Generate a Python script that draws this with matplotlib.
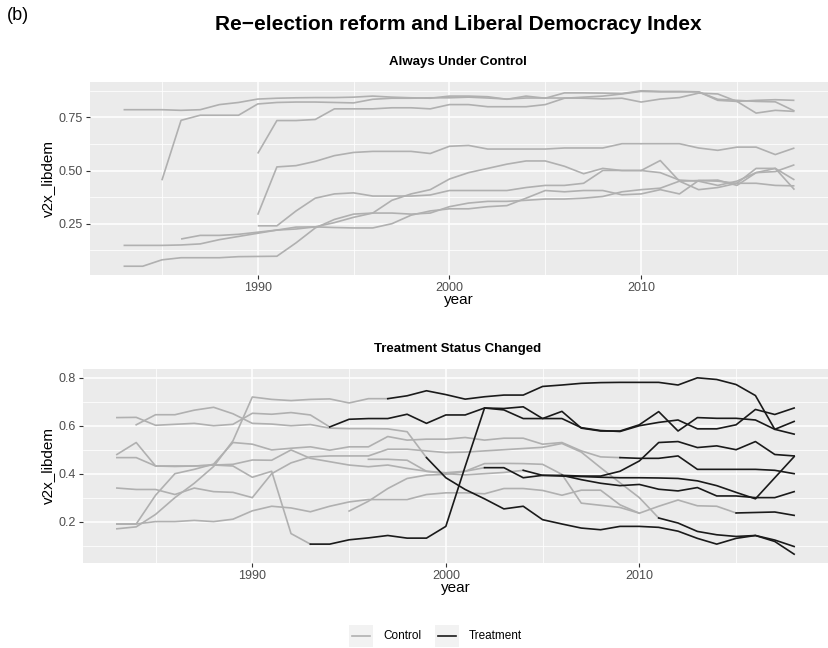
import matplotlib
matplotlib.use("Agg")
import matplotlib.pyplot as plt
from matplotlib.patches import Rectangle
from matplotlib.lines import Line2D
import numpy as np

plt.rcParams['font.family'] = ['Liberation Sans', 'DejaVu Sans']

W, H = 829, 648

# ---- Always Under Control (start year, v2x_libdem by year) ----
ctrl_a_start = 1983
ctrl_a = [0.786, 0.786, 0.786, 0.783, 0.786, 0.81, 0.82, 0.836, 0.84, 0.842, 0.843, 0.843,
          0.845, 0.85, 0.845, 0.842, 0.84, 0.85, 0.85, 0.847, 0.835, 0.85, 0.84, 0.865,
          0.865, 0.864, 0.862, 0.875, 0.872, 0.872, 0.87, 0.835, 0.83, 0.825, 0.823, 0.78]
ctrl_b_start = 1985
ctrl_b = [0.454, 0.736, 0.76, 0.76, 0.76, 0.813, 0.82, 0.822, 0.822, 0.82, 0.818, 0.835,
          0.84, 0.84, 0.842, 0.842, 0.845, 0.841, 0.836, 0.841, 0.841, 0.841, 0.84, 0.837,
          0.84, 0.822, 0.836, 0.843, 0.864, 0.86, 0.825, 0.83, 0.833, 0.83]
ctrl_c_start = 1990
ctrl_c = [0.58, 0.735, 0.735, 0.74, 0.79, 0.79, 0.79, 0.795, 0.795, 0.79, 0.81, 0.81, 0.80,
          0.80, 0.80, 0.81, 0.84, 0.845, 0.85, 0.86, 0.872, 0.87, 0.87, 0.87, 0.83, 0.825,
          0.77, 0.783, 0.778]
ctrl_d_start = 1990
ctrl_d = [0.292, 0.517, 0.523, 0.543, 0.57, 0.585, 0.59, 0.59, 0.59, 0.58, 0.614, 0.618,
          0.601, 0.601, 0.601, 0.601, 0.606, 0.606, 0.606, 0.626, 0.626, 0.626, 0.626,
          0.606, 0.595, 0.61, 0.61, 0.575, 0.606]
ctrl_e_start = 1990
ctrl_e = [0.24, 0.24, 0.31, 0.37, 0.39, 0.395, 0.38, 0.38, 0.38, 0.385, 0.406, 0.406, 0.406,
          0.406, 0.42, 0.43, 0.43, 0.44, 0.50, 0.50, 0.50, 0.49, 0.455, 0.45, 0.43, 0.45,
          0.49, 0.495, 0.527]
ctrl_h_start = 1983
ctrl_h = [0.05, 0.05, 0.08, 0.09, 0.09, 0.09, 0.095, 0.096, 0.097, 0.16, 0.23, 0.27, 0.295,
          0.30, 0.36, 0.39, 0.41, 0.46, 0.49, 0.51, 0.53, 0.545, 0.545, 0.52, 0.485, 0.51,
          0.50, 0.50, 0.547, 0.45, 0.41, 0.42, 0.44, 0.51, 0.51, 0.456]
ctrl_i_start = 1983
ctrl_i = [0.148, 0.148, 0.148, 0.15, 0.155, 0.175, 0.19, 0.205, 0.22, 0.225, 0.235, 0.255,
          0.28, 0.30, 0.30, 0.295, 0.30, 0.33, 0.347, 0.355, 0.355, 0.36, 0.366, 0.366, 0.37,
          0.378, 0.40, 0.41, 0.417, 0.45, 0.453, 0.455, 0.43, 0.49, 0.51, 0.41]
ctrl_j_start = 1986
ctrl_j = [0.178, 0.195, 0.195, 0.20, 0.21, 0.22, 0.234, 0.235, 0.232, 0.23, 0.23, 0.25, 0.29,
          0.31, 0.32, 0.32, 0.33, 0.335, 0.37, 0.406, 0.40, 0.406, 0.406, 0.386, 0.39, 0.41,
          0.39, 0.453, 0.45, 0.44, 0.44, 0.43, 0.428]

always_starts = [ctrl_a_start, ctrl_b_start, ctrl_c_start, ctrl_d_start, ctrl_e_start,
                 ctrl_h_start, ctrl_i_start, ctrl_j_start]
always_values = [ctrl_a, ctrl_b, ctrl_c, ctrl_d, ctrl_e, ctrl_h, ctrl_i, ctrl_j]

# ---- Treatment Status Changed (start year, first treated year, values) ----
chg1_start, chg1_treat = 1983, 1997
chg1 = [0.17, 0.178, 0.23, 0.30, 0.36, 0.43, 0.537, 0.72, 0.71, 0.705, 0.71, 0.712, 0.695,
        0.713, 0.713, 0.725, 0.746, 0.73, 0.711, 0.721, 0.728, 0.728, 0.764, 0.77, 0.777,
        0.78, 0.781, 0.781, 0.781, 0.77, 0.80, 0.793, 0.772, 0.726, 0.585, 0.565]
chg2_start, chg2_treat = 1983, 1994
chg2 = [0.634, 0.635, 0.602, 0.606, 0.61, 0.60, 0.606, 0.652, 0.648, 0.655, 0.645, 0.595,
        0.627, 0.63, 0.63, 0.648, 0.61, 0.645, 0.645, 0.674, 0.672, 0.679, 0.63, 0.66, 0.59,
        0.578, 0.578, 0.604, 0.659, 0.578, 0.634, 0.631, 0.631, 0.624, 0.585, 0.618]
chg3_start, chg3_treat = 1984, 1999
chg3 = [0.604, 0.646, 0.646, 0.665, 0.677, 0.65, 0.61, 0.607, 0.60, 0.605, 0.59, 0.588,
        0.588, 0.587, 0.575, 0.467, 0.383, 0.334, 0.295, 0.253, 0.264, 0.208, 0.19, 0.173,
        0.166, 0.18, 0.18, 0.176, 0.16, 0.13, 0.106, 0.13, 0.142, 0.117, 0.064]
chg4_start, chg4_treat = 1983, 1993
chg4 = [0.48, 0.53, 0.432, 0.43, 0.432, 0.436, 0.432, 0.385, 0.41, 0.15, 0.106, 0.106,
        0.124, 0.132, 0.142, 0.131, 0.131, 0.18, 0.43, 0.674, 0.666, 0.63, 0.63, 0.63, 0.592,
        0.58, 0.576, 0.60, 0.614, 0.624, 0.587, 0.587, 0.604, 0.668, 0.647, 0.674]
chg5_start, chg5_treat = 1983, 2002
chg5 = [0.467, 0.467, 0.432, 0.432, 0.432, 0.436, 0.439, 0.457, 0.456, 0.499, 0.464, 0.45,
        0.436, 0.429, 0.436, 0.422, 0.41, 0.404, 0.41, 0.425, 0.425, 0.383, 0.393, 0.39,
        0.388, 0.385, 0.383, 0.383, 0.382, 0.38, 0.37, 0.35, 0.322, 0.295, 0.383, 0.471]
chg6_start, chg6_treat = 1983, 2009
chg6 = [0.19, 0.19, 0.31, 0.40, 0.418, 0.44, 0.53, 0.523, 0.499, 0.506, 0.512, 0.498, 0.512,
        0.512, 0.555, 0.54, 0.544, 0.544, 0.551, 0.54, 0.548, 0.548, 0.523, 0.53, 0.495,
        0.47, 0.467, 0.464, 0.464, 0.474, 0.418, 0.418, 0.418, 0.418, 0.414, 0.40]
chg7_start, chg7_treat = 1983, 2011
chg7 = [0.34, 0.334, 0.334, 0.313, 0.34, 0.325, 0.322, 0.30, 0.40, 0.445, 0.47, 0.474,
        0.474, 0.474, 0.502, 0.502, 0.495, 0.488, 0.49, 0.495, 0.50, 0.505, 0.51, 0.526,
        0.49, 0.425, 0.362, 0.30, 0.215, 0.194, 0.159, 0.145, 0.138, 0.142, 0.123, 0.096]
chg8_start, chg8_treat = 1983, 2015
chg8 = [0.19, 0.19, 0.20, 0.20, 0.205, 0.20, 0.21, 0.245, 0.264, 0.257, 0.241, 0.264, 0.282,
        0.292, 0.292, 0.292, 0.313, 0.32, 0.32, 0.316, 0.338, 0.338, 0.33, 0.31, 0.331,
        0.331, 0.27, 0.235, 0.264, 0.29, 0.266, 0.264, 0.236, 0.238, 0.24, 0.226]
chg9_start, chg9_treat = 1995, None
chg9 = [0.244, 0.285, 0.338, 0.38, 0.394, 0.397, 0.41, 0.442, 0.443, 0.442, 0.439, 0.397,
        0.277, 0.268, 0.259, 0.235]
chg10_start, chg10_treat = 1996, 2004
chg10 = [0.46, 0.46, 0.456, 0.41, 0.40, 0.395, 0.40, 0.405, 0.414, 0.393, 0.393, 0.39, 0.39,
         0.41, 0.453, 0.53, 0.534, 0.509, 0.516, 0.50, 0.534, 0.48, 0.474]
chg11_start, chg11_treat = 2006, 2006
chg11 = [0.393, 0.375, 0.36, 0.35, 0.355, 0.335, 0.328, 0.342, 0.307, 0.307, 0.30, 0.30,
         0.325]

changed_starts = [chg1_start, chg2_start, chg3_start, chg4_start, chg5_start, chg6_start,
                  chg7_start, chg8_start, chg9_start, chg10_start, chg11_start]
changed_treat = [chg1_treat, chg2_treat, chg3_treat, chg4_treat, chg5_treat, chg6_treat,
                 chg7_treat, chg8_treat, chg9_treat, chg10_treat, chg11_treat]
changed_values = [chg1, chg2, chg3, chg4, chg5, chg6, chg7, chg8, chg9, chg10, chg11]

year_ticks = [1990, 2000, 2010]
c_control = '#B0B0B0'
c_treat = '#1A1A1A'
panel_bg = '#EBEBEB'


def add_panel(left, top, right, bottom):
    return fig.add_axes([left / W, 1 - bottom / H, (right - left) / W, (bottom - top) / H])


def style_panel(ax, yticks, yminor, ylim):
    ax.set_facecolor(panel_bg)
    for s in ax.spines.values():
        s.set_visible(False)
    ax.set_xlim(1981.25, 2019.75)
    ax.set_ylim(*ylim)
    ax.set_xticks(year_ticks)
    ax.set_xticks([1985, 1995, 2005, 2015], minor=True)
    ax.set_yticks(yticks)
    ax.set_yticks(yminor, minor=True)
    ax.grid(which='major', color='white', lw=1.1)
    ax.grid(which='minor', color='white', lw=0.55)
    ax.set_axisbelow(True)
    ax.tick_params(which='major', length=3, width=0.8, color='#333333',
                   labelcolor='#4D4D4D', labelsize=9, pad=2)
    ax.tick_params(which='minor', length=0)
    ax.set_xlabel('year', fontsize=11, labelpad=-1)
    ax.set_ylabel('v2x_libdem', fontsize=11, labelpad=3)


def padded(vals):
    lo, hi = min(vals), max(vals)
    d = (hi - lo) * 0.05
    return lo - d, hi + d


fig = plt.figure(figsize=(W / 100, H / 100), dpi=100)

fig.text(7 / W, 1 - 16 / H, '(b)', fontsize=13, va='center', ha='left')
fig.text(458 / W, 1 - 25 / H, 'Re\u2212election reform and Liberal Democracy Index',
         fontsize=15, fontweight='bold', ha='center', va='center')

# top panel
ax1 = add_panel(90, 82, 828, 275)
for st, vals in zip(always_starts, always_values):
    yrs = np.arange(st, st + len(vals))
    ax1.plot(yrs, vals, color=c_control, lw=1.2, solid_capstyle='butt')
all_top = [v for vals in always_values for v in vals]
style_panel(ax1, [0.25, 0.50, 0.75], [0.125, 0.375, 0.625, 0.875], padded(all_top))
ax1.set_yticklabels(['0.25', '0.50', '0.75'])
fig.text(458 / W, 1 - 62 / H, 'Always Under Control', fontsize=9.5, fontweight='bold',
         ha='center', va='center')

# bottom panel: segments take the status of the year they start from
ax2 = add_panel(83, 369, 828, 563)
black_parts = []
for st, tr, vals in zip(changed_starts, changed_treat, changed_values):
    yrs = np.arange(st, st + len(vals))
    vals = np.array(vals)
    if tr is None:
        ax2.plot(yrs, vals, color=c_control, lw=1.2)
        continue
    k = tr - st
    if k > 0:
        ax2.plot(yrs[:k + 1], vals[:k + 1], color=c_control, lw=1.2)
    black_parts.append((yrs[k:], vals[k:]))
for yrs, vals in black_parts:
    ax2.plot(yrs, vals, color=c_treat, lw=1.2)
all_bot = [v for vals in changed_values for v in vals]
style_panel(ax2, [0.2, 0.4, 0.6, 0.8], [0.1, 0.3, 0.5, 0.7], padded(all_bot))
fig.text(458 / W, 1 - 349 / H, 'Treatment Status Changed', fontsize=9.5, fontweight='bold',
         ha='center', va='center')

# legend along the bottom
key_w, key_h, key_y = 24, 22, 625
for x0, col, label in [(349, c_control, 'Control'), (435, c_treat, 'Treatment')]:
    fig.patches.append(Rectangle((x0 / W, 1 - (key_y + key_h) / H), key_w / W, key_h / H,
                                 transform=fig.transFigure, facecolor='#F2F2F2',
                                 edgecolor='none'))
    fig.lines.append(Line2D([(x0 + 3) / W, (x0 + key_w - 3) / W],
                            [1 - (key_y + key_h / 2) / H] * 2,
                            transform=fig.transFigure, color=col, lw=1.2))
    fig.text((x0 + key_w + 10) / W, 1 - (key_y + key_h / 2) / H, label, fontsize=8.5,
             ha='left', va='center')

fig.savefig('out.png', dpi=100, facecolor='white')
